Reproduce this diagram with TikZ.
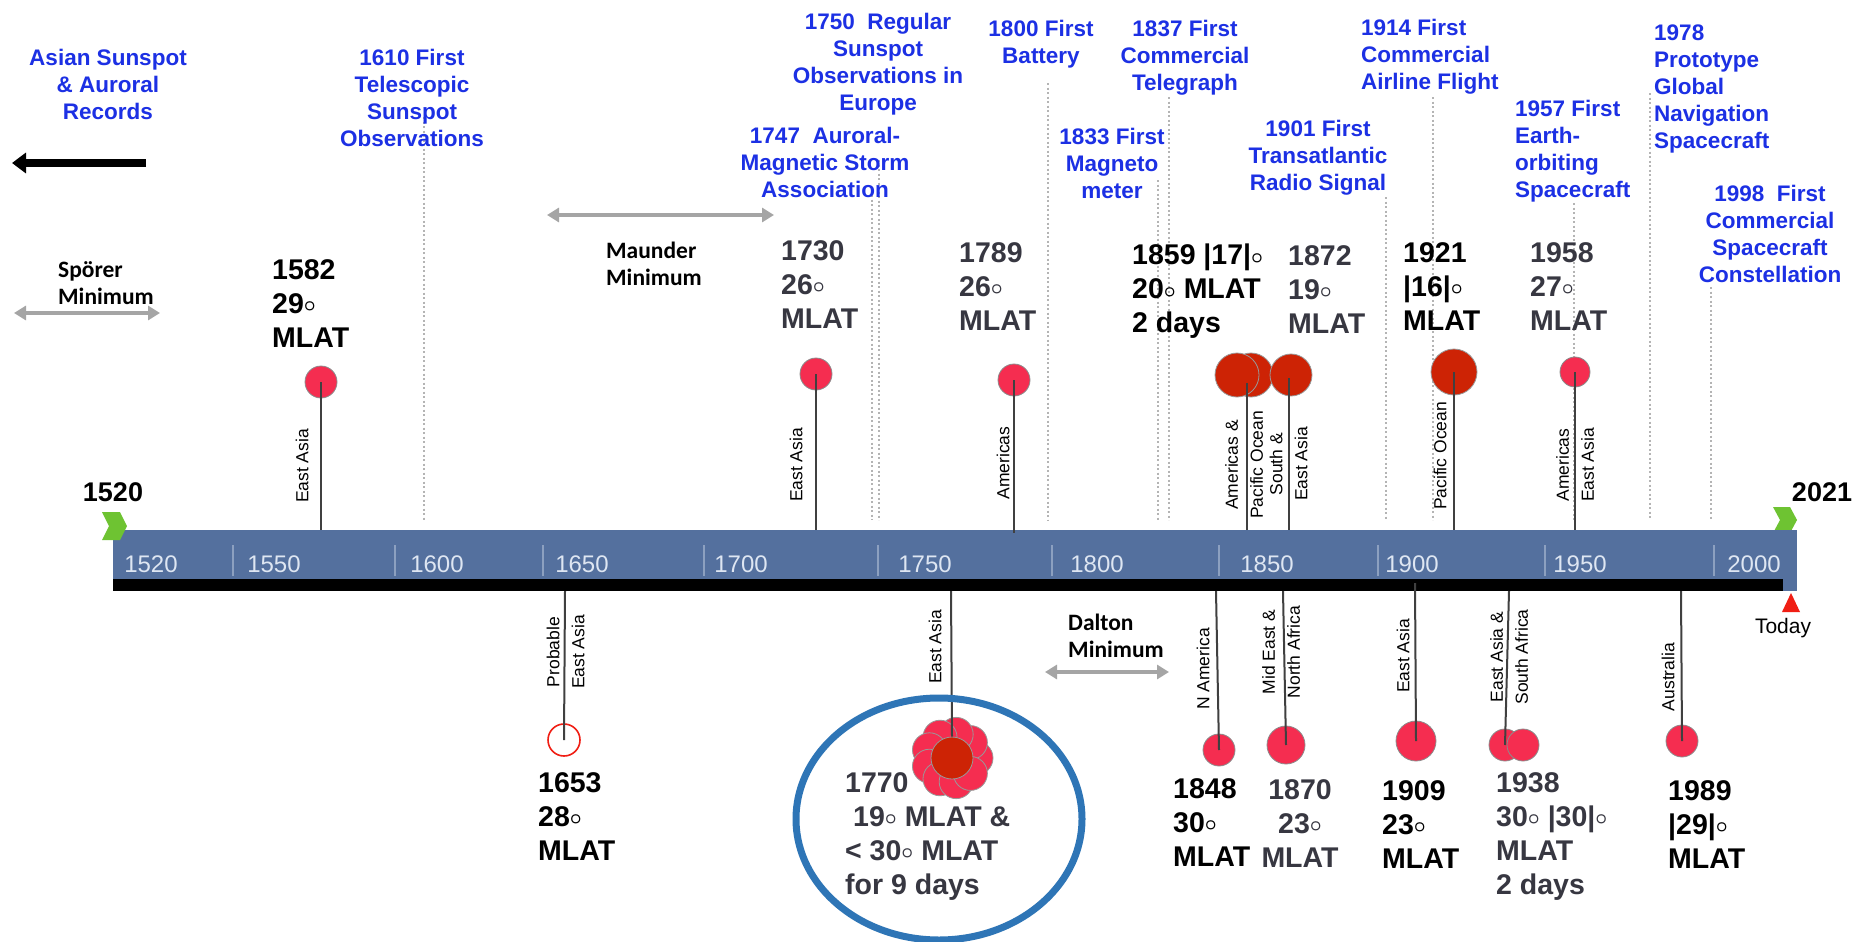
\documentclass[tikz,border=0pt]{standalone}
\usepackage{fontspec}
\setmainfont{Liberation Sans}
\newfontfamily\calib{Carlito}
\usetikzlibrary{arrows.meta}
\newcommand{\dgr}{\raisebox{1.5pt}{\fontsize{20}{20}\selectfont\boldmath$\circ$}}
\definecolor{tblue}{RGB}{28,48,228}
\definecolor{barblue}{RGB}{84,112,158}
\definecolor{ticktxt}{RGB}{222,230,242}
\definecolor{divc}{RGB}{140,160,192}
\definecolor{pinkred}{RGB}{245,45,80}
\definecolor{darkred}{RGB}{205,35,5}
\definecolor{evgray}{RGB}{55,55,65}
\definecolor{arrgray}{RGB}{165,165,165}
\definecolor{dotgray}{RGB}{180,180,180}
\definecolor{ellblue}{RGB}{46,117,182}
\definecolor{chev}{RGB}{110,195,50}
\definecolor{todayred}{RGB}{240,30,20}
\begin{document}
\begin{tikzpicture}[x=1pt,y=-1pt,
  blue/.style={font=\fontsize{22.5}{27}\selectfont\bfseries, text=tblue, align=center, inner sep=0pt, anchor=north},
  bluel/.style={blue, align=left, anchor=north west},
  evt/.style={font=\fontsize{28.5}{34}\selectfont\bfseries, align=left, inner sep=0pt, anchor=north west},
  evk/.style={evt, text=black},
  evg/.style={evt, text=evgray},
  rlab/.style={font=\fontsize{17.5}{25}\selectfont, rotate=90, align=center, inner sep=0pt},
  mini/.style={font=\calib\fontsize{23.5}{27}\selectfont\bfseries, align=left, inner sep=0pt, anchor=north west},
  tick/.style={font=\fontsize{24}{28}\selectfont, text=ticktxt, inner sep=0pt},
  dotline/.style={draw=dotgray, line width=2pt, dash pattern=on 2pt off 2.5pt},
  stem/.style={draw=black!75, line width=2pt},
  pdot/.style={circle, fill=pinkred, draw=black!45, line width=0.8pt, inner sep=0pt},
  rdot/.style={circle, fill=darkred, draw=black!40, line width=0.8pt, inner sep=0pt},
  garrow/.style={draw=arrgray, line width=4pt, {Triangle[length=12pt,width=14pt]}-{Triangle[length=12pt,width=14pt]}},
]
\useasboundingbox (0,0) rectangle (1855,942);
\fill[white] (0,0) rectangle (1855,942);

% dotted guide lines
\foreach \x/\t in {424/117, 872/195, 879/160, 1048/83, 1158/180, 1169/97, 1386/197, 1433/97, 1574/203, 1650/93, 1711/287}
  \draw[dotline] (\x,\t) -- (\x,520);

% right chevron (behind bar)
\fill[chev] (1773,507) -- (1790,507) -- (1797,520) -- (1790,533) -- (1773,533) -- (1780,520) -- cycle;
% bar
\fill[barblue] (113,530) rectangle (1797,591);
\fill[black] (113,579) rectangle (1783,591);
\foreach \x in {233,395,543,704,878,1052,1219,1378,1545,1714}
  \draw[divc, line width=1.2pt] (\x,545) -- (\x,576);
\foreach \x/\y in {151/1520,274/1550,437/1600,582/1650,741/1700,925/1750,1097/1800,1267/1850,1412/1900,1580/1950,1754/2000}
  \node[tick] (tk\y) at (\x,564) {\y};
% left chevron
\fill[chev] (102,512) -- (120,512) -- (127,526) -- (120,540) -- (102,540) -- (109,526) -- cycle;
\node[font=\fontsize{27}{30}\selectfont\bfseries, inner sep=0pt] (y1520) at (113,492) {1520};
\node[font=\fontsize{27}{30}\selectfont\bfseries, inner sep=0pt] (y2021) at (1822,492) {2021};
\fill[todayred] (1782,612) -- (1800,612) -- (1791,593) -- cycle;
\node[font=\fontsize{21}{24}\selectfont, inner sep=0pt] (today) at (1783,628) {Today};

% blue event labels
\node[blue] (asian) at (108,49) {Asian Sunspot\\\& Auroral\\Records};
\node[blue] (t1610) at (412,49) {1610 First\\Telescopic\\Sunspot\\Observations};
\node[blue] (t1750) at (878,13) {1750\ \ Regular\\Sunspot\\Observations in\\Europe};
\node[blue] (t1747) at (825,127) {1747\ \ Auroral-\\Magnetic Storm\\Association};
\node[blue] (t1800) at (1041,20) {1800 First\\Battery};
\node[blue] (t1837) at (1185,20) {1837 First\\Commercial\\Telegraph};
\node[blue] (t1833) at (1112,128) {1833 First\\Magneto\\meter};
\node[blue] (t1901) at (1318,120) {1901 First\\Transatlantic\\Radio Signal};
\node[bluel] (t1914) at (1361,19) {1914 First\\Commercial\\Airline Flight};
\node[bluel] (t1957) at (1515,100) {1957 First\\Earth-\\orbiting\\Spacecraft};
\node[bluel] (t1978) at (1654,25) {1978\\Prototype\\Global\\Navigation\\Spacecraft};
\node[blue] (t1998) at (1770,185) {1998\ \ First\\Commercial\\Spacecraft\\Constellation};

% big black arrow
\coordinate (ba1) at (146,163);
\coordinate (ba2) at (12,163);
\draw[line width=8pt, -{Triangle[length=14pt,width=20pt]}] (ba1) -- (ba2);

% minima
\coordinate (sp1) at (14,313); \coordinate (sp2) at (160,313);
\draw[garrow] (sp1) -- (sp2);
\node[mini] (sporer) at (58,261) {Spörer\\Minimum};
\coordinate (mm1) at (547,215); \coordinate (mm2) at (774,215);
\draw[garrow] (mm1) -- (mm2);
\node[mini] (maunder) at (606,242) {Maunder\\Minimum};
\coordinate (dm1) at (1045,672); \coordinate (dm2) at (1169,672);
\draw[garrow] (dm1) -- (dm2);
\node[mini] (dalton) at (1068,614) {Dalton\\Minimum};

% event texts above
\node[evk] (e1582) at (272,259) {1582\\29\dgr\\MLAT};
\node[evg] (e1730) at (781,240) {1730\\26\dgr\\MLAT};
\node[evg] (e1789) at (959,242) {1789\\26\dgr\\MLAT};
\node[evk] (e1859) at (1132,244) {1859 |17|\dgr\\20\dgr{} MLAT\\2 days};
\node[evg] (e1872) at (1288,245) {1872\\19\dgr\\MLAT};
\node[evk] (e1921) at (1403,242) {1921\\|16|\dgr\\MLAT};
\node[evg] (e1958) at (1530,242) {1958\\27\dgr\\MLAT};
% event texts below
\node[evk] (e1653) at (538,772) {1653\\28\dgr\\MLAT};
\node[evg] (e1770) at (845,772) {1770\\\hspace*{8pt}19\dgr{} MLAT \&\\< 30\dgr{} MLAT\\for 9 days};
\node[evk] (e1848) at (1173,778) {1848\\30\dgr\\MLAT};
\node[evg, align=center, anchor=north] (e1870) at (1300,779) {1870\\23\dgr\\MLAT};
\node[evk] (e1909) at (1382,780) {1909\\23\dgr\\MLAT};
\node[evg] (e1938) at (1496,772) {1938\\30\dgr{} |30|\dgr\\MLAT\\2 days};
\node[evk] (e1989) at (1668,780) {1989\\|29|\dgr\\MLAT};

% dots above
\node[pdot, minimum size=32pt] (d1582) at (321,382) {};
\node[pdot, minimum size=32pt] (d1730) at (816,374) {};
\node[pdot, minimum size=32pt] (d1789) at (1014,380) {};
\node[rdot, minimum size=44pt] (d1859b) at (1251,375) {};
\node[rdot, minimum size=44pt] (d1859a) at (1237,375) {};
\node[rdot, minimum size=42pt] (d1872) at (1291,375) {};
\node[rdot, minimum size=46pt] (d1921) at (1454,372) {};
\node[pdot, minimum size=30pt] (d1958) at (1575,372) {};
% dots below
\node[circle, draw=todayred, line width=1.6pt, fill=white, minimum size=32pt, inner sep=0pt] (d1653) at (564,740) {};
\foreach \a in {0,40,...,320}
  \fill[pinkred, draw=black!40, line width=0.8pt] (952,758) ++(\a:24pt) circle[radius=17pt];
\node[rdot, minimum size=42pt] (d1770) at (952,758) {};
\node[pdot, minimum size=32pt] (d1848) at (1219,750) {};
\node[pdot, minimum size=38pt] (d1870) at (1286,745) {};
\node[pdot, minimum size=40pt] (d1909) at (1416,741) {};
\node[pdot, minimum size=32pt] (d1938a) at (1505,745) {};
\node[pdot, minimum size=32pt] (d1938b) at (1523,745) {};
\node[pdot, minimum size=32pt] (d1989) at (1682,741) {};

% stems above
\coordinate (s1582) at (321,530);
\coordinate (s1730) at (816,530);
\coordinate (s1789) at (1014,533);
\coordinate (s1859t) at (1247,383); \coordinate (s1859) at (1247,530);
\coordinate (s1872t) at (1289,378); \coordinate (s1872) at (1289,530);
\coordinate (s1921) at (1454,530);
\coordinate (s1958) at (1575,530);
\draw[stem] (d1582.center) -- (s1582);
\draw[stem] (d1730.center) -- (s1730);
\draw[stem] (d1789.center) -- (s1789);
\draw[stem] (s1859t) -- (s1859);
\draw[stem] (s1872t) -- (s1872);
\draw[stem] (d1921.center) -- (s1921);
\draw[stem] (d1958.center) -- (s1958);
% stems below
\coordinate (b1653) at (565,591);
\coordinate (b1770) at (951,591);
\coordinate (b1848) at (1216,591);
\coordinate (b1870) at (1283,591);
\coordinate (b1909) at (1415,583);
\coordinate (b1938) at (1509,591);
\coordinate (b1989) at (1681,591);
\draw[stem] (b1653) -- (d1653.center);
\draw[stem] (b1770) -- (d1770.north);
\draw[stem] (b1848) -- (d1848.center);
\draw[stem] (b1870) -- (d1870.center);
\draw[stem] (b1909) -- (d1909.center);
\draw[stem] (b1938) -- (d1938a.center);
\draw[stem] (b1989) -- (d1989.center);

% rotated region labels
\node[rlab] (r1582) at (302,466) {East Asia};
\node[rlab] (r1730) at (796,465) {East Asia};
\node[rlab] (r1789) at (1003,463) {Americas};
\node[rlab] (r1859) at (1244,465) {Americas \&\\Pacific Ocean};
\node[rlab] (r1872) at (1288.5,464) {South \&\\East Asia};
\node[rlab] (r1921) at (1440,456) {Pacific Ocean};
\node[rlab] (r1958) at (1575,465) {Americas\\East Asia};
\node[rlab] (r1653) at (565.5,652) {Probable\\East Asia};
\node[rlab] (r1770) at (935,647) {East Asia};
\node[rlab] (r1848) at (1203,669) {N America};
\node[rlab] (r1870) at (1281,652) {Mid East \&\\North Africa};
\node[rlab] (r1909) at (1403,656) {East Asia};
\node[rlab] (r1938) at (1509,657) {East Asia \&\\South Africa};
\node[rlab] (r1989) at (1668,677) {Australia};

% highlight ellipse
\draw[ellblue, line width=7pt] (939,819) ellipse[x radius=143pt, y radius=121pt];
\end{tikzpicture}
\end{document}
